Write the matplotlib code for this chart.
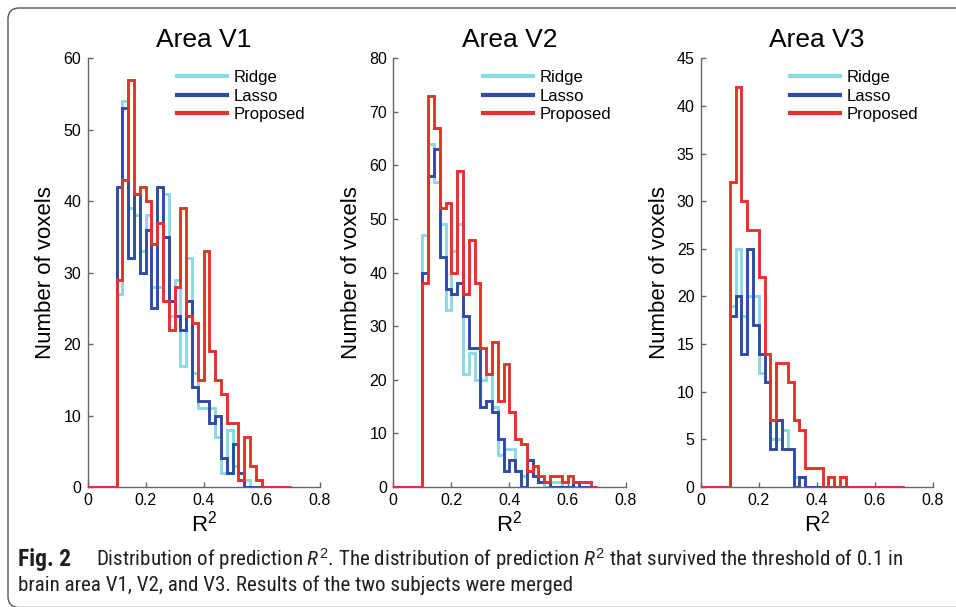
#!/usr/bin/env python3
# -*- coding: utf-8 -*-

import numpy as np
import matplotlib
matplotlib.use("Agg")
import matplotlib.pyplot as plt
from matplotlib import font_manager
from matplotlib.lines import Line2D
from matplotlib.patches import FancyBboxPatch


# Histogram counts per bin (bin width 0.02, first bin starts at R2 = 0.10)
areas = ["Area V1", "Area V2", "Area V3"]
methods = ["Ridge", "Lasso", "Proposed"]

ridge_v1 = [27, 54, 39, 38, 33, 38, 28, 28, 41, 24, 29, 17, 32, 16, 11, 11, 11, 7, 2, 8, 3, 1, 1, 0, 0]
lasso_v1 = [42, 53, 32, 41, 30, 36, 25, 42, 35, 26, 24, 22, 26, 14, 12, 12, 9, 10, 4, 2, 6, 2, 0, 0, 0]
proposed_v1 = [29, 43, 57, 41, 42, 40, 34, 37, 26, 22, 28, 39, 24, 23, 15, 33, 19, 15, 13, 9, 9, 1, 7, 3, 1]

ridge_v2 = [47, 64, 57, 49, 33, 44, 49, 21, 25, 20, 20, 21, 15, 6, 7, 7, 3, 2, 3, 2, 1, 0, 1, 1, 0, 0, 0, 0, 0, 0]
lasso_v2 = [40, 58, 63, 43, 37, 36, 38, 32, 26, 26, 15, 16, 14, 9, 3, 5, 3, 0, 5, 2, 1, 1, 0, 0, 0, 0, 1, 0, 0, 0]
proposed_v2 = [38, 73, 67, 52, 53, 40, 59, 36, 46, 38, 26, 21, 27, 16, 23, 14, 9, 8, 3, 4, 2, 1, 2, 2, 1, 2, 1, 1, 1, 0]

ridge_v3 = [19, 25, 18, 20, 20, 12, 11, 5, 5, 6, 4, 1, 1, 0, 0, 0, 0, 1, 0, 0]
lasso_v3 = [18, 20, 14, 25, 17, 14, 11, 4, 7, 4, 4, 0, 1, 0, 0, 0, 0, 0, 0, 0]
proposed_v3 = [32, 42, 30, 27, 27, 22, 14, 7, 13, 13, 11, 7, 6, 2, 2, 2, 0, 1, 0, 1]

y_max = [60, 80, 45]
y_step = [10, 10, 5]
x_ticks = [0, 0.2, 0.4, 0.6, 0.8]
x_tick_labels = ["0", "0.2", "0.4", "0.6", "0.8"]

caption_bold = "Fig. 2"
caption_line1 = (r"Distribution of prediction $\mathit{R}^2$. The distribution of prediction "
                 r"$\mathit{R}^2$ that survived the threshold of 0.1 in")
caption_line2 = "brain area V1, V2, and V3. Results of the two subjects were merged"

colors = ["#8bd9e3", "#2f4ba8", "#e5322b"]


def pick_font(candidates, fallback):
    names = {f.name for f in font_manager.fontManager.ttflist}
    for n in candidates:
        if n in names:
            return n
    return fallback


def full_counts(counts):
    # pad: zeros from 0 to 0.1, then the counts, then zeros up to 0.7
    edges = np.round(np.arange(0, 0.7001, 0.02), 2)
    out = np.zeros(len(edges) - 1)
    start = 5
    out[start:start + len(counts)] = counts
    return edges, out


def main():
    plt.rcParams['font.family'] = ['Liberation Sans', 'DejaVu Sans']
    cap_font = pick_font(['Liberation Sans Narrow', 'Roboto Condensed', 'Open Sans Condensed', 'Lato'],
                         'DejaVu Sans')
    plt.rcParams['mathtext.fontset'] = 'custom'
    plt.rcParams['mathtext.rm'] = 'Liberation Sans'
    plt.rcParams['mathtext.it'] = cap_font + ':italic'

    W, H = 956, 607
    fig = plt.figure(figsize=(W / 100, H / 100), dpi=100)

    data = [
        [ridge_v1, lasso_v1, proposed_v1],
        [ridge_v2, lasso_v2, proposed_v2],
        [ridge_v3, lasso_v3, proposed_v3],
    ]
    lefts = [87.5, 393.3, 700.7]
    ax_w = 232.3
    ax_top, ax_bot = 58.3, 487

    for i in range(3):
        ax = fig.add_axes([lefts[i] / W, (H - ax_bot) / H, ax_w / W, (ax_bot - ax_top) / H])
        for j in range(3):
            edges, counts = full_counts(data[i][j])
            ax.stairs(counts, edges, color=colors[j], lw=2.1, baseline=None, zorder=2 + j)
        ax.set_xlim(0, 0.8)
        ax.set_ylim(0, y_max[i])
        ax.set_xticks(x_ticks)
        ax.set_xticklabels(x_tick_labels)
        ax.set_yticks(np.arange(0, y_max[i] + 1, y_step[i]))
        for s in ['top', 'right']:
            ax.spines[s].set_visible(False)
        for s in ['left', 'bottom']:
            ax.spines[s].set_color('#666666')
            ax.spines[s].set_linewidth(1.0)
        ax.tick_params(direction='in', length=3.5, width=1, color='#666666', labelsize=11.5)
        ax.tick_params(axis='y', pad=4.5)
        ax.tick_params(axis='x', pad=4)
        ax.set_title(areas[i], fontsize=19, pad=8)
        ax.set_xlabel("R$^2$", fontsize=16, labelpad=2)
        ax.set_ylabel("Number of voxels", fontsize=16, labelpad=5)

        handles = [Line2D([], [], color=c, lw=3) for c in colors]
        ax.legend(handles, methods, loc='upper left', bbox_to_anchor=(0.385, 0.972),
                  frameon=False, fontsize=12, handlelength=3.0, handletextpad=0.4,
                  labelspacing=0.2, borderpad=0, borderaxespad=0)

    # rounded frame around the figure (only left/top visible)
    frame = FancyBboxPatch((0.08, -0.005), W / 100 + 0.2, H / 100 - 0.08 + 0.005,
                           boxstyle="round,pad=0,rounding_size=0.11",
                           transform=fig.dpi_scale_trans, fill=False,
                           edgecolor='#555555', lw=1.0, clip_on=False)
    fig.patches.append(frame)

    # caption
    fig.canvas.draw()
    r = fig.canvas.get_renderer()
    fb = fig.text(18 / W, 1 - 566 / H, caption_bold, fontsize=14, fontweight='bold',
                  family=[cap_font, 'DejaVu Sans'], color='#231f20')
    t1 = fig.text(96 / W, 1 - 566 / H, caption_line1, fontsize=14,
                  family=[cap_font, 'DejaVu Sans'], color='#231f20')
    t2 = fig.text(18 / W, 1 - 591 / H, caption_line2, fontsize=14,
                  family=[cap_font, 'DejaVu Sans'], color='#231f20')
    # fit caption widths to the reference
    w1 = t1.get_window_extent(r).width
    size = 14 * 809 / w1
    t1.set_fontsize(size)
    t2.set_fontsize(size)
    fb.set_fontsize(size * 1.12)

    fig.savefig('out.png', dpi=100)


if __name__ == "__main__":
    main()
